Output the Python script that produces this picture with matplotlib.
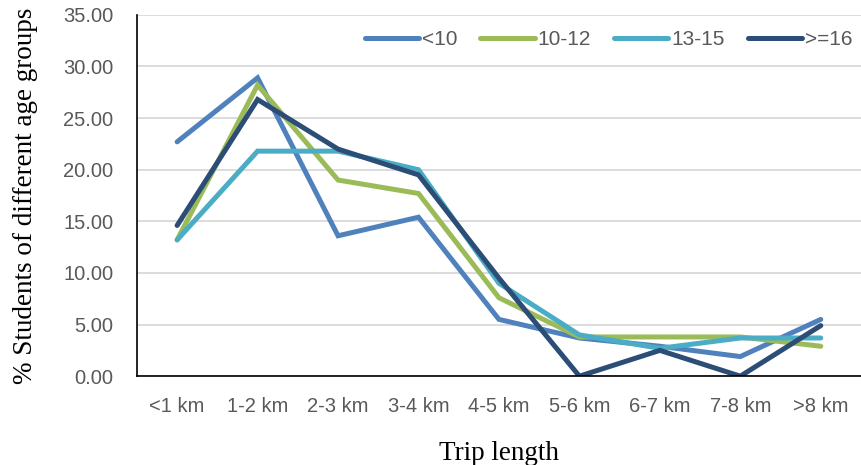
import matplotlib
matplotlib.use("Agg")
import matplotlib.pyplot as plt

trip_lengths = ["<1 km", "1-2 km", "2-3 km", "3-4 km", "4-5 km", "5-6 km", "6-7 km", "7-8 km", ">8 km"]
age_lt10 = [22.7, 28.9, 13.6, 15.4, 5.5, 3.7, 2.9, 1.9, 5.5]
age_10_12 = [13.2, 28.2, 19.0, 17.7, 7.6, 3.8, 3.8, 3.8, 2.9]
age_13_15 = [13.2, 21.8, 21.8, 20.0, 9.0, 4.0, 2.7, 3.7, 3.7]
age_ge16 = [14.6, 26.8, 22.0, 19.5, 9.5, 0.0, 2.5, 0.0, 4.9]

series = [("<10", age_lt10, "#4F81BD"),
          ("10-12", age_10_12, "#9BBB59"),
          ("13-15", age_13_15, "#4BACC6"),
          (">=16", age_ge16, "#2C4D75")]

fig = plt.figure(figsize=(8.61, 4.65), dpi=100)
ax = fig.add_axes([0.159, 0.191, 0.841, 0.777])

x = range(len(trip_lengths))
for name, vals, col in series:
    ax.plot(x, vals, color=col, lw=3.6, label=name, solid_capstyle="round", solid_joinstyle="miter")

ax.set_xlim(-0.5, len(trip_lengths) - 0.5)
ax.set_ylim(0, 35)
ax.set_yticks(range(0, 36, 5))
ax.set_yticklabels([f"{v:.2f}" for v in range(0, 36, 5)])
ax.set_xticks(list(x))
ax.set_xticklabels(trip_lengths)
ax.yaxis.grid(True, color="#d9d9d9", lw=1.3)
ax.set_axisbelow(True)
for s in ["top", "right"]:
    ax.spines[s].set_visible(False)
ax.spines["left"].set_linewidth(1.2)
ax.spines["bottom"].set_linewidth(1.2)
ax.tick_params(length=0, labelsize=14.5, labelcolor="#595959")
ax.tick_params(axis="y", pad=17)
ax.tick_params(axis="x", pad=15)
for lab in ax.get_xticklabels() + ax.get_yticklabels():
    lab.set_family("Liberation Sans")

ax.set_xlabel("Trip length", family="Liberation Serif", fontsize=19.5, labelpad=18)
ax.set_ylabel("% Students of different age groups", family="Liberation Serif", fontsize=19.5, labelpad=18)

leg = ax.legend(loc="upper right", bbox_to_anchor=(1.014, 1.01), ncol=4, frameon=False,
                handlelength=2.6, handletextpad=0.15, columnspacing=1.1,
                prop={"family": "Liberation Sans", "size": 15})
for t in leg.get_texts():
    t.set_color("#595959")

fig.savefig("out.png", dpi=100)
